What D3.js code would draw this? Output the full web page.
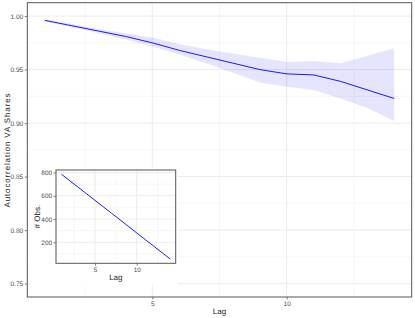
<!DOCTYPE html>
<html><head><meta charset="utf-8">
<script src="https://cdn.jsdelivr.net/npm/d3@7"></script>
<style>body{margin:0;background:#fff}svg{display:block}text{font-family:"Liberation Sans",Arial,sans-serif;font-weight:400;text-rendering:geometricPrecision}</style>
</head><body><svg id="c" width="415" height="318"></svg>
<script>
const lags = [1,2,3,4,5,6,7,8,9,10,11,12,13,14];
const acf = [0.996,0.991,0.986,0.981,0.975,0.968,0.962,0.956,0.950,0.946,0.945,0.939,0.931,0.923];
const acfUpper = [0.997,0.9925,0.988,0.984,0.980,0.974,0.969,0.965,0.961,0.957,0.958,0.956,0.963,0.970];
const acfLower = [0.995,0.9895,0.984,0.978,0.9715,0.964,0.956,0.947,0.938,0.934,0.931,0.923,0.914,0.902];
const nObs = [785,729,673,617,561,505,449,393,337,280,224,168,112,56];
const mainYTicks = [0.75,0.80,0.85,0.90,0.95,1.00];
const mainXTicks = [5,10];
const insetYTicks = [200,400,600,800];
const insetXTicks = [5,10];

const svg = d3.select("#c");
const tickCol = "#4d4d4d";

function panel(g, x, y, xTicks, yTicks, xMinor, yMinor) {
  const [x0,x1] = x.range(), [y1,y0] = y.range();
  g.append("rect").attr("x",x0).attr("y",y0).attr("width",x1-x0).attr("height",y1-y0).attr("fill","#fff");
  g.selectAll(".vmin").data(xMinor).join("line").attr("x1",d=>x(d)).attr("x2",d=>x(d)).attr("y1",y0).attr("y2",y1).attr("stroke","#f2f2f2").attr("stroke-width",0.6);
  g.selectAll(".hmin").data(yMinor).join("line").attr("y1",d=>y(d)).attr("y2",d=>y(d)).attr("x1",x0).attr("x2",x1).attr("stroke","#f2f2f2").attr("stroke-width",0.6);
  g.selectAll(".vmaj").data(xTicks).join("line").attr("x1",d=>x(d)).attr("x2",d=>x(d)).attr("y1",y0).attr("y2",y1).attr("stroke","#ebebeb").attr("stroke-width",1);
  g.selectAll(".hmaj").data(yTicks).join("line").attr("y1",d=>y(d)).attr("y2",d=>y(d)).attr("x1",x0).attr("x2",x1).attr("stroke","#ebebeb").attr("stroke-width",1);
}
function axes(g, x, y, xTicks, yTicks, fmtY, fs) {
  const [x0,x1] = x.range(), [y1,y0] = y.range();
  const ax = g.append("g").attr("transform",`translate(0,${y1})`).call(d3.axisBottom(x).tickValues(xTicks).tickSize(2.5).tickPadding(1.5).tickFormat(d3.format("d")));
  const ay = g.append("g").attr("transform",`translate(${x0},0)`).call(d3.axisLeft(y).tickValues(yTicks).tickSize(2.5).tickPadding(1.5).tickFormat(fmtY));
  [ax,ay].forEach(a=>{a.select(".domain").remove();a.selectAll("line").attr("stroke","#333").attr("stroke-width",0.6);a.selectAll("text").attr("fill",tickCol).attr("font-size",fs).attr("font-family","Liberation Sans, Arial, sans-serif");});
  g.append("rect").attr("x",x0).attr("y",y0).attr("width",x1-x0).attr("height",y1-y0).attr("fill","none").attr("stroke","#555").attr("stroke-width",1);
}
function title(sel, txt) {
  return sel.append("text").attr("text-anchor","middle").attr("font-size","8px").attr("fill","#222").attr("font-weight",400).text(txt);
}

// main panel
const x = d3.scaleLinear().domain([0.35,14.65]).range([27.3,411.7]);
const y = d3.scaleLinear().domain([0.7375,1.0125]).range([297,2.7]);
const gm = svg.append("g");
panel(gm, x, y, mainXTicks, mainYTicks, [2.5,7.5,12.5], [0.775,0.825,0.875,0.925,0.975]);
gm.append("path").datum(lags).attr("fill","#0000ff").attr("fill-opacity",0.1)
  .attr("d", d3.area().x(d=>x(d)).y0((d,i)=>y(acfLower[i])).y1((d,i)=>y(acfUpper[i])));
gm.append("path").datum(lags).attr("fill","none").attr("stroke","#0000ff").attr("stroke-width",0.9)
  .attr("d", d3.line().x(d=>x(d)).y((d,i)=>y(acf[i])));
axes(gm, x, y, mainXTicks, mainYTicks, d3.format(".2f"), "6.6px");
title(svg, "Lag").attr("x",x(7.5)).attr("y",314);
title(svg, "Autocorrelation VA Shares").attr("transform",`translate(9.5,150.5) rotate(-90)`)
  .attr("textLength",114).attr("lengthAdjust","spacing");

// inset
const gi = svg.append("g");
gi.append("rect").attr("x",30).attr("y",167).attr("width",148).attr("height",118).attr("fill","#fff");
const xi = d3.scaleLinear().domain([0.35,14.65]).range([56,175.7]);
const yi = d3.scaleLinear().domain([19.5,821.5]).range([263.3,170]);
panel(gi, xi, yi, insetXTicks, insetYTicks, [2.5,7.5,12.5], [100,300,500,700]);
gi.append("path").datum(lags).attr("fill","none").attr("stroke","#0000ff").attr("stroke-width",0.9)
  .attr("d", d3.line().x(d=>xi(d)).y((d,i)=>yi(nObs[i])));
axes(gi, xi, yi, insetXTicks, insetYTicks, d3.format("d"), "6.4px");
title(gi, "Lag").attr("x",xi(7.5)).attr("y",279.5);
title(gi, "# Obs.").attr("transform",`translate(40,${(170+263.3)/2}) rotate(-90)`);
</script></body></html>
